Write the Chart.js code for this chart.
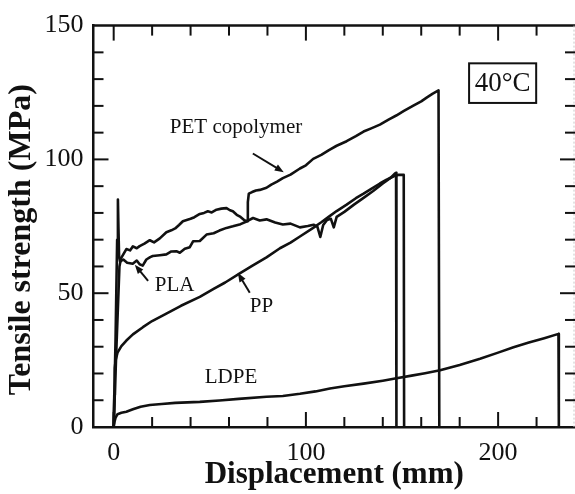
<!DOCTYPE html>
<html lang="en">
<head>
  <meta charset="UTF-8">
  <title>Tensile strength vs displacement at 40°C</title>
  <script src="https://cdn.jsdelivr.net/npm/chart.js@4.4.1/dist/chart.umd.min.js"></script>
  <style>
    body { margin: 0; background: #fff; }
    #wrap { width: 575px; height: 494px; }
  </style>
</head>
<body>
  <div id="wrap"><canvas id="tensileChart"></canvas></div>
  <script>
    // Displacement (mm) and tensile strength (MPa) for each film
    const petX = [0, 1.5, 3, 3.8, 5, 6.6, 8.5, 10, 12, 13.5, 16, 18.8, 21, 24, 27.4, 30, 32, 34, 36, 40, 42, 44.8, 47, 49, 51, 53.5, 56, 58.7, 60.5, 62, 64, 66, 68, 69.4, 69.8, 70.3, 72, 74, 76, 79.5, 82, 85, 88, 92, 96.9, 100, 103.8, 108, 112, 116, 121.2, 126, 130, 134, 138.5, 143, 147, 151, 155.9, 160, 163, 166, 169, 169.4];
    const petY = [0, 31, 60, 63, 64.5, 66.5, 66, 67.5, 66.8, 67.6, 68.5, 69.8, 69, 70.5, 72.8, 73.5, 74.2, 75.5, 76.9, 77.8, 78.4, 79.6, 80, 80.6, 80.2, 81.2, 81.6, 81.8, 81, 80.6, 79.3, 78.5, 77.3, 76.9, 84, 87.2, 87.8, 88.4, 88.6, 89.4, 90.6, 91.7, 93, 94.3, 96.6, 97.8, 100.2, 101.7, 103.5, 105.1, 106.8, 108.7, 110.4, 111.6, 113, 114.9, 116.4, 118.1, 120.1, 121.7, 123.2, 124.6, 125.8, 0];

    const plaX = [0, 1, 1.8, 2.2, 2.5, 2.8, 3.3, 5, 7, 9.9, 12, 13.5, 15.1, 17, 19, 20.3, 24, 27.4, 30, 32.6, 34.4, 37, 39.6, 41.3, 44.8, 48.3, 52, 55, 58.7, 62, 66, 69.4, 72.5, 76, 79.5, 84, 88, 92, 96.9, 101, 104, 106, 107.5, 109, 111, 113, 114.5, 116, 120, 125, 130, 135, 140, 144, 146.5, 146.9, 147.1];
    const plaY = [0, 34, 70, 85, 74, 64, 61.8, 62.6, 61.4, 61, 62.2, 60.8, 60.3, 62.6, 63.5, 63.9, 64.2, 64.5, 65.6, 65.7, 65.1, 66.6, 67.2, 69.4, 69.5, 71.9, 72.4, 73.4, 74.4, 75, 75.8, 76.9, 78.1, 77.2, 77.6, 76.4, 75.7, 76, 74.6, 75.1, 75.6, 74.8, 71, 75.5, 77.4, 77.8, 74.6, 78.5, 80.4, 83.1, 85.6, 88.2, 91, 93.1, 94.8, 95, 0];

    const ppX = [0, 0.3, 0.6, 1, 2, 4, 6.6, 10, 15.2, 20, 27.4, 35, 44.8, 52, 58, 65.6, 72, 79.5, 86.5, 92, 96.9, 103.8, 108, 112, 116, 121, 126, 130, 134, 138.5, 142, 146, 148, 150.9, 151.1];
    const ppY = [0, 12, 22, 25, 27.8, 30.2, 32.3, 34.6, 37.3, 39.6, 42.4, 45.3, 48.6, 51.6, 54, 57.4, 60.2, 63.4, 66.8, 68.9, 71.2, 74.4, 76.5, 78.6, 80.7, 83, 85.5, 87.2, 89, 91, 92.4, 93.8, 94.2, 94.2, 0];

    const ldpeX = [0, 0.5, 1, 2, 4, 6.6, 10, 14, 18.8, 25, 32, 44.8, 55, 65, 79.5, 88, 96.9, 105, 112.5, 120, 130, 140, 146.4, 155, 162, 169.8, 180, 190.6, 200, 208, 216, 224, 231.4, 231.6];
    const ldpeY = [0, 2.2, 3.5, 4.8, 5.3, 5.7, 6.6, 7.6, 8.2, 8.6, 9, 9.4, 9.9, 10.5, 11.3, 11.6, 12.4, 13.3, 14.4, 15.2, 16.2, 17.3, 18.1, 19.2, 20.1, 21.2, 23.2, 25.5, 27.8, 29.8, 31.6, 33.2, 34.8, 0];

    const xTickValues = [0, 100, 200];
    const yTickValues = [0, 50, 100, 150];

    const serif = '"Liberation Serif", "Times New Roman", serif';

    const toPoints = (xs, ys) => xs.map((x, i) => ({ x: x, y: ys[i] }));

    const curve = (label, xs, ys) => ({
      label: label,
      data: toPoints(xs, ys),
      showLine: true,
      borderColor: '#111',
      borderWidth: 2.6,
      borderJoinStyle: 'round',
      pointRadius: 0,
      tension: 0
    });

    // curve labels and arrows, in data units
    const notes = [
      { text: 'PET copolymer', x: 29.2, y: 110, from: [72.4, 102.2], to: [88.5, 95.2] },
      { text: 'PLA', x: 21.4, y: 50.9, from: [17.9, 54.6], to: [11, 60.6] },
      { text: 'PP', x: 70.8, y: 43.1, from: [70.8, 50.2], to: [64.6, 57.6] },
      { text: 'LDPE', x: 47.4, y: 16.3 }
    ];
    const tempBox = { text: '40°C', x0: 184.9, x1: 219.8, y0: 135.9, y1: 121.1 };

    const frameAndNotes = {
      id: 'frameAndNotes',
      afterDatasetsDraw(chart) {
        const { ctx, chartArea: a, scales: { x, y } } = chart;
        const line = (x0, y0, x1, y1) => {
          ctx.beginPath(); ctx.moveTo(x0, y0); ctx.lineTo(x1, y1); ctx.stroke();
        };
        ctx.save();
        ctx.strokeStyle = '#111';

        // top edge, right edge is barely visible
        ctx.lineWidth = 2.5;
        line(a.left, a.top, a.right, a.top);
        ctx.lineWidth = 1;
        ctx.strokeStyle = '#c8c8c8';
        ctx.setLineDash([2, 2]);
        line(a.right - 1, a.top, a.right - 1, a.bottom);
        ctx.setLineDash([]);

        // inward ticks on all four sides
        ctx.strokeStyle = '#111';
        ctx.lineWidth = 2;
        for (let v = 0; v < 240; v += 20) {
          const px = x.getPixelForValue(v);
          const len = v % 100 === 0 ? 15 : 10;
          line(px, a.bottom, px, a.bottom - len);
          line(px, a.top, px, a.top + len);
        }
        for (let v = 10; v < 150; v += 10) {
          const py = y.getPixelForValue(v);
          const len = v % 50 === 0 ? 15 : 10;
          line(a.left, py, a.left + len, py);
          line(a.right, py, a.right - len, py);
        }

        // curve labels with arrows
        ctx.fillStyle = '#111';
        ctx.font = '21px ' + serif;
        ctx.textBaseline = 'alphabetic';
        ctx.textAlign = 'left';
        ctx.lineWidth = 2;
        notes.forEach(n => {
          ctx.fillText(n.text, x.getPixelForValue(n.x), y.getPixelForValue(n.y));
          if (!n.from) return;
          const fx = x.getPixelForValue(n.from[0]), fy = y.getPixelForValue(n.from[1]);
          const tx = x.getPixelForValue(n.to[0]), ty = y.getPixelForValue(n.to[1]);
          const ang = Math.atan2(ty - fy, tx - fx);
          line(fx, fy, tx - 5 * Math.cos(ang), ty - 5 * Math.sin(ang));
          ctx.beginPath();
          ctx.moveTo(tx, ty);
          ctx.lineTo(tx - 9 * Math.cos(ang) + 3.5 * Math.sin(ang), ty - 9 * Math.sin(ang) - 3.5 * Math.cos(ang));
          ctx.lineTo(tx - 9 * Math.cos(ang) - 3.5 * Math.sin(ang), ty - 9 * Math.sin(ang) + 3.5 * Math.cos(ang));
          ctx.closePath();
          ctx.fill();
        });

        // temperature box
        const bx0 = x.getPixelForValue(tempBox.x0), bx1 = x.getPixelForValue(tempBox.x1);
        const by0 = y.getPixelForValue(tempBox.y0), by1 = y.getPixelForValue(tempBox.y1);
        ctx.lineWidth = 2;
        ctx.strokeRect(bx0, by0, bx1 - bx0, by1 - by0);
        ctx.font = '27px ' + serif;
        ctx.textAlign = 'center';
        ctx.textBaseline = 'middle';
        ctx.fillText(tempBox.text, (bx0 + bx1) / 2, (by0 + by1) / 2 + 1);

        // y axis title
        ctx.font = 'bold 32px ' + serif;
        ctx.translate(22, y.getPixelForValue(70));
        ctx.rotate(-Math.PI / 2);
        ctx.fillText('Tensile strength (MPa)', 0, 0);
        ctx.restore();
      }
    };

    new Chart(document.getElementById('tensileChart'), {
      type: 'scatter',
      data: {
        datasets: [
          curve('PET copolymer', petX, petY),
          curve('PLA', plaX, plaY),
          curve('PP', ppX, ppY),
          curve('LDPE', ldpeX, ldpeY)
        ]
      },
      options: {
        responsive: true,
        maintainAspectRatio: false,
        animation: false,
        layout: { padding: { top: 23, right: 0, left: 0, bottom: 0 } },
        plugins: { legend: { display: false }, tooltip: { enabled: false } },
        scales: {
          x: {
            type: 'linear',
            min: -10.5,
            max: 240,
            afterBuildTicks: s => { s.ticks = xTickValues.map(v => ({ value: v })); },
            afterFit: s => { s.height = 67; },
            grid: { display: false, drawTicks: false },
            border: { display: true, color: '#111', width: 2.5 },
            ticks: { color: '#111', padding: 11, maxRotation: 0, font: { family: serif, size: 26 } },
            title: {
              display: true,
              text: 'Displacement (mm)',
              color: '#111',
              padding: { top: 0, bottom: 0 },
              font: { family: serif, size: 31, weight: 'bold' }
            }
          },
          y: {
            type: 'linear',
            min: 0,
            max: 150,
            afterBuildTicks: s => { s.ticks = yTickValues.map(v => ({ value: v })); },
            afterFit: s => { s.width = 93.5; },
            grid: { display: false, drawTicks: false },
            border: { display: true, color: '#111', width: 2.5 },
            ticks: { color: '#111', padding: 10, font: { family: serif, size: 26 } }
          }
        }
      },
      plugins: [frameAndNotes]
    });
  </script>
</body>
</html>
